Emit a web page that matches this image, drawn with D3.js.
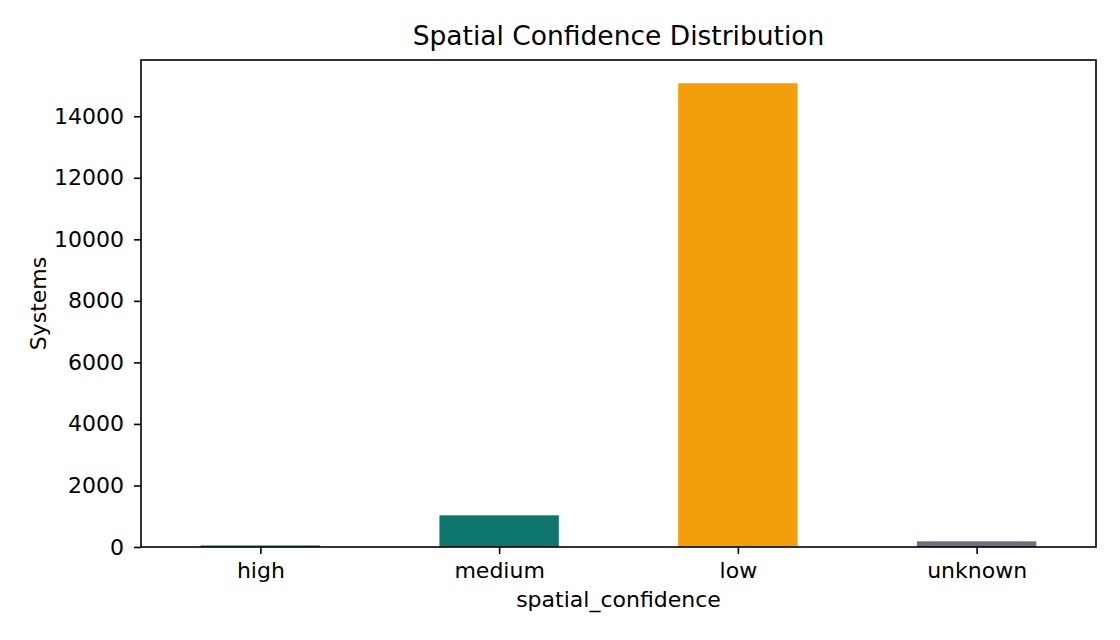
<!DOCTYPE html>
<html>
<head>
<meta charset="utf-8">
<script src="https://cdn.jsdelivr.net/npm/d3@7"></script>
<style>
  body { margin: 0; background: #fff; }
  text { font-family: "DejaVu Sans", sans-serif; fill: #000; }
</style>
</head>
<body>
<div id="chart"></div>
<script>
// data
const categories = ["high", "medium", "low", "unknown"];
const systems = [50, 1030, 15075, 185];
const barColors = ["#15803d", "#0f766e", "#f59e0b", "#6b7280"];
const yTicks = [0, 2000, 4000, 6000, 8000, 10000, 12000, 14000];

const W = 1120, H = 640;
const margin = { top: 60, right: 24, bottom: 93, left: 141 };
const width = W - margin.left - margin.right,
  height = H - margin.top - margin.bottom;

const svg = d3.select("#chart").append("svg")
  .attr("width", W).attr("height", H);

const g = svg.append("g")
  .attr("transform", "translate(" + margin.left + "," + margin.top + ")");

// pandas-style: positions 0..n-1, limits -0.5..n-0.5, bar width 0.5
const xScale = d3.scaleLinear().domain([-0.5, categories.length - 0.5]).range([0, width]);
const yScale = d3.scaleLinear().domain([0, d3.max(systems) * 1.05]).range([height, 0]);
const bw = xScale(0.5) - xScale(0);

g.selectAll(".bar")
  .data(systems)
  .enter().append("rect")
  .attr("class", "bar")
  .attr("x", (d, i) => xScale(i) - bw / 2)
  .attr("y", d => yScale(d))
  .attr("width", bw)
  .attr("height", d => height - yScale(d))
  .attr("fill", (d, i) => barColors[i]);

const xAxis = g.append("g")
  .attr("transform", "translate(0," + height + ")")
  .call(d3.axisBottom(xScale).tickValues(d3.range(categories.length))
    .tickFormat(i => categories[i]).tickSize(7).tickPadding(8));

const yAxis = g.append("g")
  .call(d3.axisLeft(yScale).tickValues(yTicks).tickFormat(d3.format("d")).tickSize(7).tickPadding(10));

[xAxis, yAxis].forEach(a => {
  a.selectAll("text").attr("font-size", 22).attr("font-family", "DejaVu Sans");
  a.selectAll("line").attr("stroke", "#000").attr("stroke-width", 1.6);
  a.select(".domain").remove();
});

// frame
g.append("rect")
  .attr("width", width).attr("height", height)
  .attr("fill", "none").attr("stroke", "#000").attr("stroke-width", 1.6);

svg.append("text")
  .attr("x", margin.left + width / 2).attr("y", 45)
  .attr("text-anchor", "middle").attr("font-size", 26.5)
  .text("Spatial Confidence Distribution");

svg.append("text")
  .attr("x", margin.left + width / 2).attr("y", 607)
  .attr("text-anchor", "middle").attr("font-size", 22)
  .text("spatial_confidence");

svg.append("text")
  .attr("transform", "translate(46," + (margin.top + height / 2) + ") rotate(-90)")
  .attr("text-anchor", "middle").attr("font-size", 22)
  .text("Systems");
</script>
</body>
</html>
